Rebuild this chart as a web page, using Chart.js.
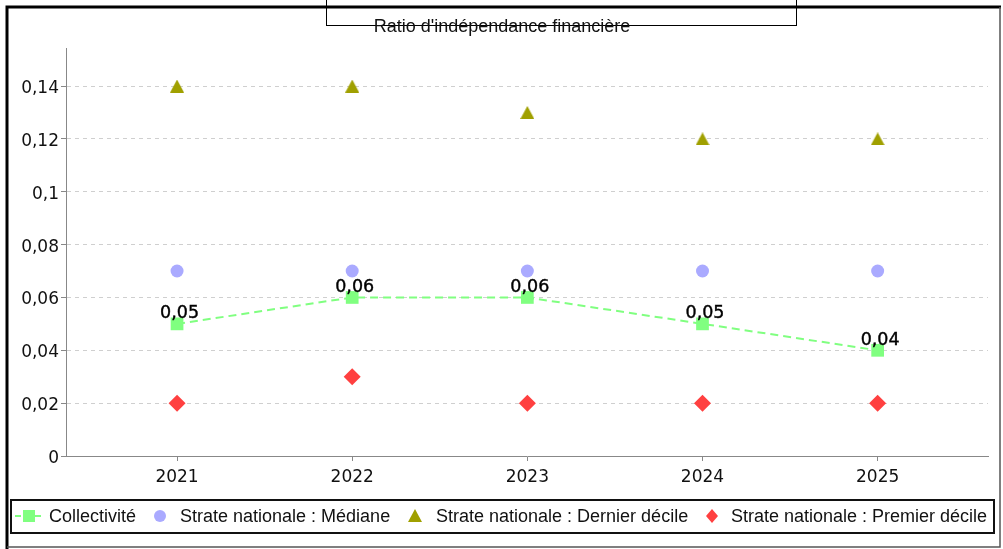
<!DOCTYPE html>
<html>
<head>
<meta charset="utf-8">
<style>
  html, body { margin: 0; padding: 0; background: #ffffff; }
  #wrap { width: 1003px; height: 549px; position: relative; }
</style>
</head>
<body>
<div id="wrap"><canvas id="chart" width="1003" height="549"></canvas></div>
<script src="https://cdn.jsdelivr.net/npm/chart.js"></script>
<script>
const years = [2021, 2022, 2023, 2024, 2025];
const collectivite = [0.05, 0.06, 0.06, 0.05, 0.04];
const mediane = [0.07, 0.07, 0.07, 0.07, 0.07];
const dernierDecile = [0.14, 0.14, 0.13, 0.12, 0.12];
const premierDecile = [0.02, 0.03, 0.02, 0.02, 0.02];
const yTicks = [0, 0.02, 0.04, 0.06, 0.08, 0.1, 0.12, 0.14];
const chartTitle = "Ratio d'indépendance financière";
const seriesNames = ['Collectivité', 'Strate nationale : Médiane', 'Strate nationale : Dernier décile', 'Strate nationale : Premier décile'];

const GREEN = 'rgb(128,255,128)';
const BLUE = 'rgb(170,170,255)';
const OLIVE = 'rgb(160,160,0)';
const RED = 'rgb(255,64,64)';

function fr(v) {
  return String(Math.round(v * 100) / 100).replace('.', ',');
}
function pts(arr) {
  return arr.map((v, i) => ({ x: years[i], y: v }));
}

// triangle marker centred on its bounding box
const tri = document.createElement('canvas');
tri.width = 14; tri.height = 13;
(function () {
  const c = tri.getContext('2d');
  c.fillStyle = OLIVE;
  c.beginPath();
  c.moveTo(7, 0); c.lineTo(14, 13); c.lineTo(0, 13);
  c.closePath(); c.fill();
})();

// data labels above the Collectivité points
const valueLabels = {
  id: 'valueLabels',
  afterDatasetsDraw(chart) {
    const ctx = chart.ctx;
    const meta = chart.getDatasetMeta(0);
    ctx.save();
    ctx.font = '17.5px "DejaVu Sans"';
    ctx.fillStyle = '#000';
    ctx.strokeStyle = '#000';
    ctx.lineWidth = 0.4;
    ctx.textAlign = 'center';
    ctx.textBaseline = 'middle';
    meta.data.forEach((p, i) => {
      ctx.fillText(fr(collectivite[i]), p.x + 2.5, p.y - 10);
      ctx.strokeText(fr(collectivite[i]), p.x + 2.5, p.y - 10);
    });
    ctx.restore();
  }
};

// frame, title box and legend box
const frame = {
  id: 'frame',
  afterDraw(chart) {
    const ctx = chart.ctx;
    ctx.save();
    // outer frame
    ctx.strokeStyle = '#000';
    ctx.lineWidth = 3;
    ctx.beginPath();
    ctx.moveTo(7, 549);
    ctx.lineTo(7, 7);
    ctx.lineTo(1001, 7);
    ctx.stroke();
    ctx.strokeStyle = '#555';
    ctx.lineWidth = 1.5;
    ctx.beginPath();
    ctx.moveTo(1000, 7);
    ctx.lineTo(1000, 547);
    ctx.lineTo(7, 547);
    ctx.stroke();

    // title box
    ctx.strokeStyle = '#000';
    ctx.lineWidth = 1;
    ctx.strokeRect(326.5, -2, 470, 27.5);
    ctx.font = '18px "Liberation Sans"';
    ctx.fillStyle = '#111';
    ctx.textAlign = 'center';
    ctx.textBaseline = 'middle';
    ctx.fillText(chartTitle, 502, 27);

    // legend
    ctx.lineWidth = 2;
    ctx.strokeStyle = '#111';
    ctx.strokeRect(11, 500, 983, 33);
    const cy = 516;
    ctx.font = '18px "Liberation Sans"';
    ctx.textAlign = 'left';
    ctx.fillStyle = '#111';
    // Collectivité: dashed line + square
    ctx.strokeStyle = GREEN;
    ctx.lineWidth = 2;
    ctx.setLineDash([6, 4]);
    ctx.beginPath();
    ctx.moveTo(15, cy); ctx.lineTo(43, cy);
    ctx.stroke();
    ctx.setLineDash([]);
    ctx.fillStyle = GREEN;
    ctx.fillRect(23, cy - 6, 12, 12);
    ctx.fillStyle = '#111';
    ctx.fillText(seriesNames[0], 49, cy + 1);
    // Médiane circle
    ctx.fillStyle = BLUE;
    ctx.beginPath(); ctx.arc(160, cy, 6, 0, Math.PI * 2); ctx.fill();
    ctx.fillStyle = '#111';
    ctx.fillText(seriesNames[1], 180, cy + 1);
    // Dernier décile triangle
    ctx.fillStyle = OLIVE;
    ctx.beginPath();
    ctx.moveTo(415, cy - 7); ctx.lineTo(422, cy + 6); ctx.lineTo(408, cy + 6);
    ctx.closePath(); ctx.fill();
    ctx.fillStyle = '#111';
    ctx.fillText(seriesNames[2], 436, cy + 1);
    // Premier décile diamond
    ctx.fillStyle = RED;
    ctx.beginPath();
    ctx.moveTo(712, cy - 7); ctx.lineTo(718, cy); ctx.lineTo(712, cy + 7); ctx.lineTo(706, cy);
    ctx.closePath(); ctx.fill();
    ctx.fillStyle = '#111';
    ctx.fillText(seriesNames[3], 731, cy + 1);
    ctx.restore();
  }
};

new Chart(document.getElementById('chart'), {
  type: 'line',
  data: {
    datasets: [
      {
        label: seriesNames[0],
        data: pts(collectivite),
        borderColor: GREEN,
        backgroundColor: GREEN,
        borderWidth: 2,
        borderDash: [8, 5],
        pointStyle: 'rect',
        pointRadius: 9,
        pointBorderWidth: 0,
        showLine: true,
        order: 4
      },
      {
        label: seriesNames[1],
        data: pts(mediane),
        backgroundColor: BLUE,
        borderColor: BLUE,
        pointStyle: 'circle',
        pointRadius: 6.5,
        pointBorderWidth: 0,
        showLine: false,
        order: 3
      },
      {
        label: seriesNames[2],
        data: pts(dernierDecile),
        backgroundColor: OLIVE,
        borderColor: OLIVE,
        pointStyle: tri,
        pointRadius: 7,
        pointBorderWidth: 0,
        showLine: false,
        order: 2
      },
      {
        label: seriesNames[3],
        data: pts(premierDecile),
        backgroundColor: RED,
        borderColor: RED,
        pointStyle: 'rectRot',
        pointRadius: 8.5,
        pointBorderWidth: 0,
        showLine: false,
        order: 1
      }
    ]
  },
  options: {
    responsive: false,
    animation: false,
    layout: { padding: { left: 0, top: 48, right: 15, bottom: 0 } },
    plugins: {
      legend: { display: false },
      title: { display: false },
      tooltip: { enabled: false }
    },
    scales: {
      x: {
        type: 'linear',
        min: 2020.366,
        max: 2025.63,
        afterBuildTicks: (s) => { s.ticks = years.map(v => ({ value: v })); },
        afterFit: (s) => { s.height = 93; },
        grid: { display: true, drawOnChartArea: false, tickLength: 5, color: '#888' },
        border: { color: '#888', width: 1 },
        ticks: {
          font: { family: 'DejaVu Sans', size: 17 },
          color: '#111',
          padding: 6,
          maxRotation: 0,
          callback: (v) => String(v)
        }
      },
      y: {
        min: 0,
        max: 0.1544,
        afterBuildTicks: (s) => { s.ticks = yTicks.map(v => ({ value: v })); },
        afterFit: (s) => { s.width = 66; },
        grid: {
          color: '#cfcfcf',
          tickColor: '#888',
          tickLength: 5,
          tickBorderDash: [],
          drawTicks: true
        },
        border: { color: '#888', width: 1, dash: [4, 4] },
        ticks: {
          font: { family: 'DejaVu Sans', size: 17 },
          color: '#111',
          padding: 2,
          labelOffset: 2.5,
          callback: (v) => fr(v)
        }
      }
    }
  },
  plugins: [valueLabels, frame]
});
</script>
</body>
</html>
